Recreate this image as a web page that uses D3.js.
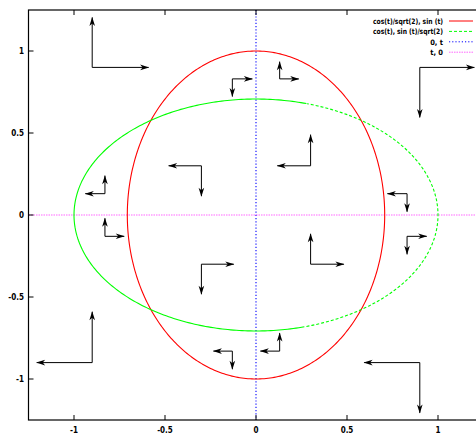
<!DOCTYPE html>
<html>
<head>
<meta charset="utf-8">
<script src="https://cdn.jsdelivr.net/npm/d3@7"></script>
<style>
	body { margin: 0; background: #fff; }
	svg { display: block; }
	text { font-family: "DejaVu Sans Condensed", "Liberation Sans Narrow", "DejaVu Sans", sans-serif; font-weight: bold; font-stretch: condensed; }
</style>
</head>
<body>
<svg id="plot"></svg>
<script>

// tick values
const xTicks = [-1, -0.5, 0, 0.5, 1];
const yTicks = [-1, -0.5, 0, 0.5, 1];

// legend (key) labels, same order as the curves
const keyLabels = ["cos(t)/sqrt(2), sin (t)", "cos(t), sin (t)/sqrt(2)", "0, t", "t, 0"];

// vector pairs : origin + one horizontal and one vertical arrow each
const originX = [-0.9, -0.13, 0.13, 0.9, 0.3, 0.83, -0.3, -0.83, -0.83, -0.3, -0.9, -0.13, 0.13, 0.9, 0.3, 0.83];
const originY = [0.9, 0.83, 0.83, 0.9, 0.3, 0.13, 0.3, 0.13, -0.13, -0.3, -0.9, -0.83, -0.83, -0.9, -0.3, -0.13];
const horizDX = [0.31, 0.11, 0.105, 0.30, -0.183, -0.108, -0.18, -0.108, 0.106, 0.178, -0.305, -0.104, -0.106, -0.306, 0.183, 0.108];
const vertDY = [0.305, -0.108, 0.105, -0.305, 0.19, -0.11, -0.185, 0.11, 0.11, -0.183, 0.31, -0.11, 0.11, -0.307, 0.185, -0.11];


function whenDocumentLoaded(action) {
	if (document.readyState === "loading") {
		document.addEventListener("DOMContentLoaded", action);
	} else {
		action();
	}
}

whenDocumentLoaded(() => {

	let width = 476;
	let height = 434;

	// plot area (right border falls just outside the picture)
	let left = 28.5, right = 483.5, top = 10, bottom = 420;
	let tickLen = 5;

	let svg = d3.select("#plot")
		.attr("width", width)
		.attr("height", height);

	let scaleX = d3.scaleLinear().domain([-1.25, 1.25]).range([left, right]);
	let scaleY = d3.scaleLinear().domain([-1.25, 1.25]).range([bottom, top]);

	// arrow head marker
	let defs = svg.append("defs");
	defs.append("marker")
		.attr("id", "head")
		.attr("viewBox", "-9 -3.5 10 7")
		.attr("refX", 0)
		.attr("refY", 0)
		.attr("markerUnits", "userSpaceOnUse")
		.attr("markerWidth", 10)
		.attr("markerHeight", 7)
		.attr("orient", "auto")
		.append("path")
		.attr("d", "M0.5,0 L-8.5,-2.8 L-6,0 L-8.5,2.8 Z")
		.attr("fill", "#000");

	// zero lines
	svg.append("line")
		.attr("x1", scaleX(0)).attr("x2", scaleX(0))
		.attr("y1", top).attr("y2", bottom)
		.attr("stroke", "#0000ff")
		.attr("stroke-dasharray", "1.2,2")
		.attr("stroke-width", 1.1);

	svg.append("line")
		.attr("x1", left).attr("x2", right)
		.attr("y1", scaleY(0)).attr("y2", scaleY(0))
		.attr("stroke", "#ff00ff")
		.attr("stroke-opacity", 0.6)
		.attr("stroke-dasharray", "1.5,1")
		.attr("stroke-width", 1.2);

	// parametric curves
	let line = d3.line()
		.x((p) => scaleX(p[0]))
		.y((p) => scaleY(p[1]));

	let tAll = d3.range(0, 2 * Math.PI + 0.001, Math.PI / 200);

	svg.append("path")
		.attr("d", line(tAll.map((t) => [Math.cos(t) / Math.SQRT2, Math.sin(t)])))
		.attr("fill", "none")
		.attr("stroke", "#ff0000")
		.attr("stroke-width", 1.1);

	// green one : dashed on the right part, solid elsewhere
	let cut = 1.29;
	let tSolid = d3.range(cut, 2 * Math.PI - cut + 0.001, Math.PI / 200);
	let tDash = d3.range(-cut, cut + 0.001, Math.PI / 200);

	svg.append("path")
		.attr("d", line(tSolid.map((t) => [Math.cos(t), Math.sin(t) / Math.SQRT2])))
		.attr("fill", "none")
		.attr("stroke", "#00ff00")
		.attr("stroke-width", 1.1);

	svg.append("path")
		.attr("d", line(tDash.map((t) => [Math.cos(t), Math.sin(t) / Math.SQRT2])))
		.attr("fill", "none")
		.attr("stroke", "#00ff00")
		.attr("stroke-dasharray", "3,2")
		.attr("stroke-width", 1.1);

	// vectors
	let vectors = svg.append("g");
	originX.forEach((x0, i) => {
		let y0 = originY[i];
		vectors.append("line")
			.attr("x1", scaleX(x0)).attr("y1", scaleY(y0))
			.attr("x2", scaleX(x0 + horizDX[i])).attr("y2", scaleY(y0))
			.attr("stroke", "#000")
			.attr("marker-end", "url(#head)");
		vectors.append("line")
			.attr("x1", scaleX(x0)).attr("y1", scaleY(y0))
			.attr("x2", scaleX(x0)).attr("y2", scaleY(y0 + vertDY[i]))
			.attr("stroke", "#000")
			.attr("marker-end", "url(#head)");
	});

	// border
	svg.append("rect")
		.attr("x", left).attr("y", top)
		.attr("width", right - left).attr("height", bottom - top)
		.attr("fill", "none")
		.attr("stroke", "#000")
		.attr("stroke-width", 1.2);

	// ticks (mirrored) + labels
	let ticks = svg.append("g").attr("stroke", "#000");
	xTicks.forEach((v) => {
		ticks.append("line").attr("x1", scaleX(v)).attr("x2", scaleX(v)).attr("y1", bottom).attr("y2", bottom - tickLen);
		ticks.append("line").attr("x1", scaleX(v)).attr("x2", scaleX(v)).attr("y1", top).attr("y2", top + tickLen);
	});
	yTicks.forEach((v) => {
		ticks.append("line").attr("x1", left).attr("x2", left + tickLen).attr("y1", scaleY(v)).attr("y2", scaleY(v));
		ticks.append("line").attr("x1", right).attr("x2", right - tickLen).attr("y1", scaleY(v)).attr("y2", scaleY(v));
	});

	svg.append("g").selectAll("text")
		.data(xTicks)
		.enter()
		.append("text")
		.attr("x", (d) => scaleX(d))
		.attr("y", 433)
		.attr("text-anchor", "middle")
		.attr("font-size", 8)
		.text((d) => d);

	svg.append("g").selectAll("text")
		.data(yTicks)
		.enter()
		.append("text")
		.attr("x", 24)
		.attr("y", (d) => scaleY(d) + 3)
		.attr("text-anchor", "end")
		.attr("font-size", 8)
		.text((d) => d);

	// key
	let keyColors = ["#ff0000", "#00ff00", "#0000ff", "#ff00ff"];
	let keyDash = [null, "3,2", "1.2,2", "1.5,1"];
	keyLabels.forEach((label, i) => {
		let y = 21 + i * 10.4;
		let t = svg.append("text")
			.attr("x", 443)
			.attr("y", y + 3)
			.attr("text-anchor", "end")
			.attr("font-size", 7.5)
			.text(label);
		if (label.length > 6) {
			t.attr("textLength", 70).attr("lengthAdjust", "spacingAndGlyphs");
		}
		svg.append("line")
			.attr("x1", 449).attr("x2", 473)
			.attr("y1", y).attr("y2", y)
			.attr("stroke", keyColors[i])
			.attr("stroke-dasharray", keyDash[i])
			.attr("stroke-opacity", i == 3 ? 0.6 : 1);
	});
});

</script>
</body>
</html>
